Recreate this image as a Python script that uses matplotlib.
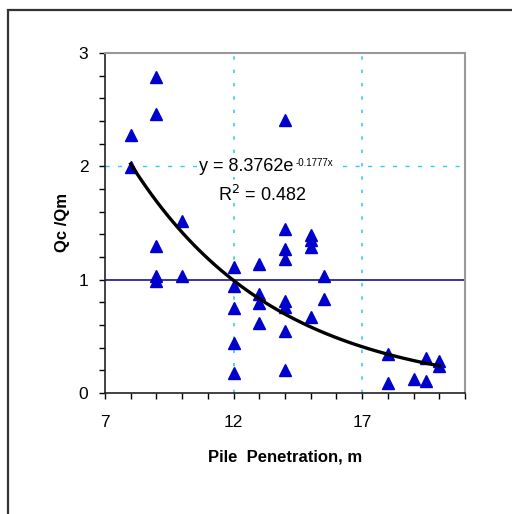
import numpy as np
import matplotlib.pyplot as plt
from matplotlib.ticker import MultipleLocator, FixedLocator
from matplotlib.patches import Rectangle

# pile penetration (m) and Qc/Qm ratio
penetration = [8, 8, 9, 9, 9, 9, 9, 10, 10,
               12, 12, 12, 12, 12,
               13, 13, 13, 13,
               14, 14, 14, 14, 14, 14, 14, 14,
               15, 15, 15, 15, 15.5, 15.5,
               18, 18, 19, 19.5, 19.5, 20, 20]
ratio = [2.28, 1.99, 2.79, 2.46, 1.30, 1.03, 0.99, 1.52, 1.03,
         1.11, 0.94, 0.75, 0.44, 0.18,
         1.14, 0.87, 0.79, 0.62,
         2.41, 1.45, 1.27, 1.18, 0.81, 0.76, 0.55, 0.20,
         1.39, 1.35, 1.29, 0.67, 1.03, 0.83,
         0.34, 0.09, 0.12, 0.31, 0.11, 0.285, 0.24]

# exponential trendline as printed on the chart
trend_a = 8.3762
trend_b = -0.1777
trend_r2 = 0.482

x_major = [7, 12, 17]

plt.rcParams['font.family'] = ['Liberation Sans', 'DejaVu Sans']

fig = plt.figure(figsize=(5.12, 5.14), dpi=100)
# outer chart-area border (runs off the right and bottom of the image)
fig.patches.append(Rectangle((8 / 512, -0.1), 1.2, 1 - 10 / 514 + 0.1,
                             transform=fig.transFigure, fill=False,
                             edgecolor='#333333', linewidth=1.6))

ax = fig.add_axes([105 / 512, 1 - 393 / 514, 360 / 512, 340 / 514])
ax.set_xlim(7, 21)
ax.set_ylim(0, 3)

# dashed grid at major ticks
for gx in x_major[1:]:
    ax.axvline(gx, color='#33ccee', linestyle=(0, (2, 6)), linewidth=1.2, zorder=1)
ax.axhline(2, color='#33ccee', linestyle=(0, (3, 6)), linewidth=1, zorder=1)
ax.axhline(1, color='#000080', linewidth=1.1, zorder=2)

xs = np.linspace(min(penetration), max(penetration), 60)
ax.plot(xs, trend_a * np.exp(trend_b * xs), color='black', linewidth=2.4, zorder=4)
ax.plot(penetration, ratio, linestyle='none', marker='^', markersize=8.5,
        color='#0000cc', markeredgecolor='#0000cc', zorder=3)

box = dict(facecolor='white', edgecolor='none', pad=1.5)
eq = ax.text(10.67, 2.0, 'y = %.4fe' % trend_a, fontsize=13, ha='left', va='center',
             bbox=box, zorder=5)
ax.annotate('%.4fx' % trend_b, xy=(1, 1), xycoords=eq, xytext=(1, 0),
            textcoords='offset points', fontsize=7, ha='left', va='top',
            bbox=box, zorder=6)
ax.text(13.1, 1.75, r'R$^2$ = %.3f' % trend_r2, fontsize=13, ha='center', va='center', zorder=5)

ax.xaxis.set_major_locator(FixedLocator(x_major))
ax.xaxis.set_minor_locator(MultipleLocator(1))
ax.yaxis.set_major_locator(MultipleLocator(1))
ax.yaxis.set_minor_locator(MultipleLocator(0.2))
ax.tick_params(which='both', direction='out', length=4, width=1, color='black',
               labelsize=12.5, pad=12)
ax.tick_params(axis='y', pad=8)

for side in ['top', 'right']:
    ax.spines[side].set_color('#999999')
    ax.spines[side].set_linewidth(1.5)
for side in ['left', 'bottom']:
    ax.spines[side].set_color('#222222')
    ax.spines[side].set_linewidth(1.2)

ax.set_xlabel('Pile  Penetration, m', fontsize=12, fontweight='bold', labelpad=14)
ax.set_ylabel('Qc /Qm', fontsize=12, fontweight='bold', labelpad=6)

plt.savefig('out.png', dpi=100)
